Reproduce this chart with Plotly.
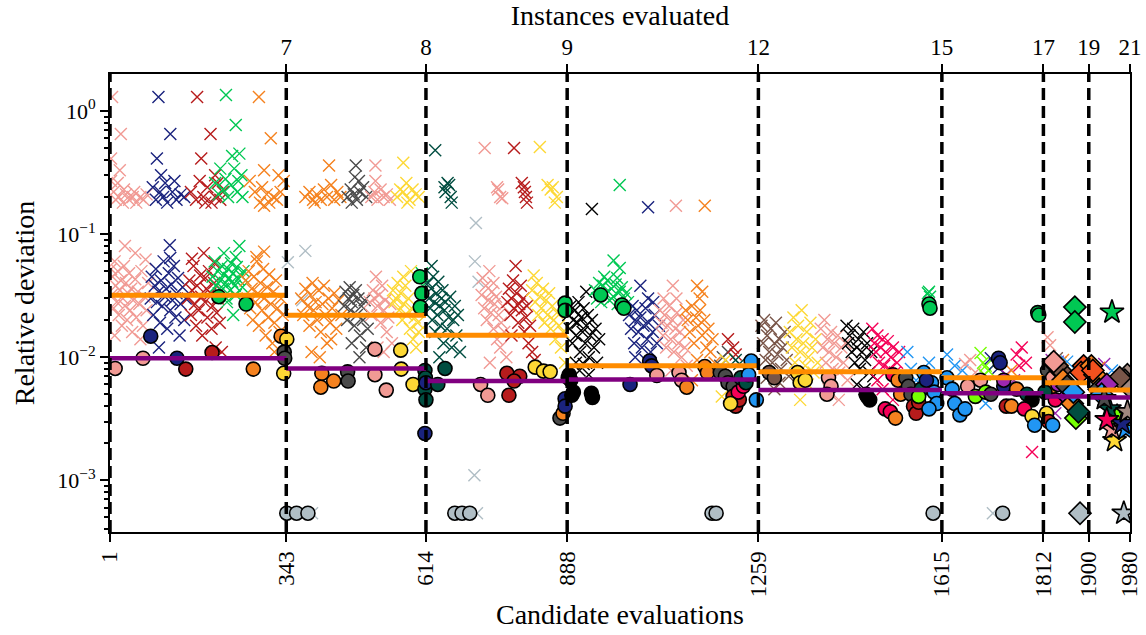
import plotly.graph_objects as go

# ---------------- data ----------------
seg_bounds = [1, 343, 614, 888, 1259, 1615, 1812, 1900, 1980]
instances = [7, 8, 9, 12, 15, 17, 19, 21]
mean_dev = [0.0319, 0.0219, 0.0151, 0.0085, 0.0076, 0.0068, 0.0062, 0.0054]
median_dev = [0.0098, 0.0081, 0.0064, 0.0066, 0.0054, 0.0051, 0.0048, 0.0047]
floor_val = 5.4e-4

palette = {
    "pink": "#f19a94", "navy": "#1a237e", "firebrick": "#b71c1c", "green": "#00c853",
    "orange": "#f5821f", "darkgray": "#4a4a4a", "yellow": "#fdd835", "teal": "#004d40",
    "lightgray": "#b0bec5", "black": "#000000", "brown": "#795548", "crimson": "#f50057",
    "blue": "#2196f3", "lime": "#76ff03", "purple": "#9c27b0", "tan": "#a1887f",
    "redorange": "#f4511e",
}

s1_pink = [(5,1.3),(22,0.65),(3,0.41),(20,0.33),(16,0.26),(3,0.27),(8,0.22),(12,0.19),(18,0.2),(26,0.18),
           (32,0.21),(38,0.19),(45,0.2),(52,0.18),(60,0.2),(66,0.19),(72,0.21),(28,0.23),(48,0.22),
           (4,0.032),(6,0.045),(8,0.025),(10,0.06),(12,0.038),(14,0.028),(16,0.05),(18,0.022),(20,0.035),
           (22,0.042),(24,0.018),(26,0.03),(28,0.055),(30,0.026),(32,0.04),(34,0.02),(36,0.033),(38,0.048),
           (40,0.024),(42,0.036),(44,0.016),(46,0.029),(50,0.043),(52,0.021),(55,0.034),(58,0.027),(62,0.05),
           (65,0.018),(68,0.031),(72,0.024),(75,0.04),(30,0.08),(50,0.07),(10,0.015),(60,0.014),(3,0.052),(70,0.062)]
s1_navy = [(95,1.3),(118,0.65),(92,0.41),(84,0.24),(100,0.3),(108,0.26),(122,0.22),(90,0.19),(104,0.2),
           (112,0.18),(130,0.19),(138,0.21),(145,0.2),(126,0.27),(98,0.22),
           (80,0.03),(82,0.045),(85,0.022),(88,0.038),(90,0.052),(92,0.028),(95,0.034),(98,0.019),(100,0.042),
           (102,0.026),(105,0.06),(108,0.031),(110,0.036),(112,0.017),(115,0.048),(117,0.081),(118,0.024),
           (120,0.039),(122,0.029),(125,0.055),(128,0.021),(130,0.033),(133,0.044),(136,0.015),(138,0.027),
           (142,0.037),(145,0.02),(148,0.03),(96,0.012),(118,0.064)]
s1_firebrick = [(170,1.3),(196,0.65),(178,0.41),(205,0.3),(210,0.26),(158,0.22),(168,0.19),(182,0.2),(190,0.24),
                (198,0.18),(215,0.19),(220,0.22),(175,0.27),(186,0.18),(205,0.2),
                (152,0.03),(155,0.042),(158,0.022),(160,0.035),(163,0.055),(166,0.027),(168,0.018),(170,0.038),
                (173,0.024),(176,0.046),(178,0.031),(180,0.015),(183,0.07),(185,0.028),(188,0.036),(190,0.021),
                (193,0.05),(196,0.033),(198,0.017),(200,0.026),(203,0.04),(206,0.012),(208,0.023),(210,0.03),
                (214,0.019),(218,0.011),(204,0.058),(160,0.063),(186,0.044)]
s1_green = [(226,1.35),(245,0.77),(252,0.45),(238,0.43),(215,0.34),(242,0.34),(256,0.3),(205,0.26),(220,0.23),
            (230,0.2),(236,0.25),(248,0.22),(258,0.2),(212,0.21),(225,0.28),(250,0.27),
            (200,0.045),(204,0.06),(207,0.038),(210,0.05),(212,0.033),(215,0.042),(218,0.055),(220,0.036),
            (222,0.047),(225,0.04),(227,0.03),(230,0.052),(232,0.044),(234,0.035),(236,0.058),(238,0.041),
            (240,0.048),(243,0.038),(245,0.032),(247,0.054),(250,0.043),(252,0.08),(255,0.046),(258,0.037),
            (260,0.05),(222,0.07),(245,0.065),(228,0.028),(240,0.022)]
s1_orange = [(290,1.3),(313,0.6),(300,0.33),(272,0.27),(282,0.22),(292,0.18),(300,0.17),(310,0.18),(318,0.2),
             (325,0.19),(332,0.22),(338,0.27),(328,0.3),(296,0.24),(305,0.21),
             (264,0.042),(268,0.03),(270,0.05),(273,0.025),(276,0.036),(278,0.02),(280,0.045),(283,0.028),
             (286,0.06),(288,0.033),(290,0.018),(293,0.04),(296,0.024),(298,0.052),(300,0.03),(303,0.015),
             (306,0.037),(308,0.021),(310,0.047),(313,0.027),(316,0.013),(318,0.034),(320,0.019),(323,0.042),
             (326,0.025),(330,0.016),(333,0.03),(336,0.022),(300,0.072),(285,0.065),(320,0.011)]

s2_lightgray = [(346,0.059),(380,0.073),(374,0.029),(393,floor_val)]
s2_orange = [(426,0.36),(380,0.2),(388,0.22),(395,0.19),(402,0.21),(410,0.19),(416,0.23),(422,0.2),(430,0.25),
             (436,0.19),(442,0.22),(448,0.2),(398,0.18),
             (372,0.03),(376,0.022),(380,0.036),(384,0.026),(388,0.018),(390,0.032),(394,0.04),(396,0.024),
             (400,0.028),(403,0.02),(406,0.035),(410,0.016),(413,0.027),(416,0.038),(419,0.022),(422,0.013),
             (425,0.03),(428,0.019),(432,0.025),(436,0.033),(440,0.017),(445,0.029),(450,0.022),(392,0.011),
             (408,0.01),(430,0.014)]
s2_darkgray = [(478,0.36),(476,0.29),(462,0.2),(468,0.23),(474,0.21),(480,0.19),(486,0.22),(492,0.24),(498,0.2),
               (484,0.27),(470,0.18),
               (455,0.026),(458,0.034),(461,0.02),(464,0.03),(466,0.037),(468,0.024),(470,0.028),(473,0.032),
               (475,0.018),(478,0.035),(480,0.022),(483,0.03),(486,0.015),(489,0.026),(492,0.02),(495,0.029),
               (498,0.012),(501,0.017),(470,0.013),(485,0.01)]
s2_pink = [(516,0.36),(508,0.2),(514,0.22),(520,0.19),(526,0.23),(532,0.2),(538,0.21),(516,0.27),(544,0.19),
           (505,0.028),(508,0.022),(511,0.035),(514,0.03),(517,0.045),(520,0.026),(523,0.032),(526,0.019),
           (529,0.038),(532,0.024),(535,0.029),(538,0.016),(541,0.021),(545,0.027),(548,0.013),(520,0.012),(532,0.011)]
s2_yellow = [(570,0.38),(558,0.2),(564,0.23),(570,0.22),(576,0.26),(582,0.19),(588,0.23),(594,0.21),(600,0.2),
             (578,0.18),
             (550,0.035),(553,0.028),(556,0.03),(559,0.04),(562,0.024),(565,0.033),(568,0.02),(571,0.027),
             (574,0.038),(577,0.022),(580,0.03),(583,0.017),(586,0.025),(589,0.014),(592,0.021),(595,0.012),
             (598,0.019),(600,0.016),(570,0.045),(585,0.05)]
s2_green = [(606,0.048),(608,0.038)]

s3_teal = [(632,0.48),(659,0.25),(656,0.26),(652,0.22),(662,0.2),(664,0.18),(650,0.24),
           (618,0.04),(620,0.03),(622,0.025),(624,0.036),(626,0.02),(628,0.045),(630,0.028),(632,0.016),
           (634,0.033),(636,0.022),(638,0.041),(640,0.026),(642,0.018),(644,0.03),(646,0.035),(648,0.013),
           (650,0.024),(652,0.028),(655,0.017),(658,0.021),(661,0.031),(664,0.012),(667,0.02),(670,0.026),
           (673,0.015),(676,0.022),(680,0.011),(640,0.01),(625,0.055)]
s3_lightgray = [(711,0.123),(709,0.06),(716,0.041),(708,0.0011),(713,floor_val)]
s3_pink = [(728,0.5),(752,0.24),(758,0.2),(762,0.195),(754,0.23),
           (722,0.032),(724,0.044),(727,0.025),(730,0.038),(732,0.02),(735,0.029),(737,0.05),(740,0.023),
           (742,0.034),(745,0.017),(747,0.027),(750,0.031),(752,0.014),(755,0.022),(758,0.012),(760,0.019),
           (763,0.026),(766,0.016),(770,0.01),(738,0.009),(745,0.04)]
s3_firebrick = [(785,0.5),(800,0.26),(804,0.24),(806,0.22),(808,0.2),(810,0.18),
                (772,0.028),(775,0.036),(778,0.022),(780,0.03),(783,0.042),(785,0.025),(788,0.055),(790,0.033),
                (793,0.019),(795,0.027),(798,0.038),(800,0.024),(803,0.03),(805,0.016),(808,0.021),(810,0.026),
                (813,0.013),(816,0.018),(820,0.011),(780,0.015),(825,0.0095)]
s3_yellow = [(835,0.51),(850,0.25),(856,0.23),(860,0.24),(864,0.18),(868,0.2),
             (820,0.035),(823,0.046),(826,0.028),(829,0.04),(832,0.022),(835,0.031),(838,0.025),(841,0.036),
             (844,0.019),(847,0.029),(850,0.022),(853,0.033),(856,0.017),(859,0.026),(862,0.02),(865,0.014),
             (868,0.023),(872,0.018),(876,0.012),(880,0.016),(884,0.009)]

s4_black = [(936,0.16),(925,0.034),
            (890,0.022),(893,0.017),(895,0.026),(898,0.013),(900,0.02),(903,0.024),(905,0.015),(908,0.019),
            (910,0.028),(913,0.011),(915,0.021),(918,0.016),(920,0.025),(923,0.013),(925,0.018),(928,0.022),
            (930,0.01),(933,0.015),(936,0.02),(940,0.012),(943,0.017),(946,0.009),(950,0.014),(905,0.009),
            (920,0.0088),(912,0.0078),(930,0.0072)]
s4_green = [(990,0.25),(978,0.061),(990,0.053),
            (942,0.035),(946,0.03),(950,0.04),(954,0.028),(958,0.038),(962,0.033),(966,0.042),(970,0.029),
            (974,0.036),(978,0.031),(982,0.039),(986,0.027),(990,0.034),(994,0.037),(998,0.03),(1002,0.033),
            (1006,0.028),(960,0.045),(985,0.044)]
s4_navy = [(1045,0.165),(1030,0.038),(1045,0.03),
           (1008,0.022),(1012,0.017),(1015,0.026),(1018,0.013),(1020,0.02),(1023,0.024),(1026,0.016),
           (1030,0.021),(1033,0.012),(1036,0.018),(1040,0.025),(1043,0.014),(1046,0.019),(1050,0.011),
           (1054,0.016),(1058,0.022),(1062,0.013),(1066,0.018),(1020,0.01),(1040,0.0095),(1055,0.028)]
s4_pink = [(1099,0.17),(1093,0.038),(1100,0.03),
           (1068,0.024),(1071,0.019),(1074,0.015),(1077,0.022),(1080,0.012),(1083,0.018),(1086,0.026),
           (1089,0.014),(1092,0.02),(1095,0.011),(1098,0.017),(1101,0.023),(1104,0.013),(1107,0.016),
           (1110,0.01),(1113,0.02),(1116,0.012),(1120,0.0085),(1090,0.0078),(1075,0.03)]
s4_orange = [(1155,0.17),(1140,0.038),(1150,0.034),(1145,0.03),
             (1118,0.024),(1122,0.02),(1126,0.016),(1130,0.026),(1134,0.013),(1138,0.021),(1142,0.018),
             (1146,0.024),(1150,0.015),(1154,0.02),(1158,0.012),(1162,0.017),(1166,0.011),(1170,0.014),
             (1174,0.009),(1140,0.0095),(1160,0.0075),(1130,0.0065)]
s4_mixed_darkgray = [(1190,0.01),(1200,0.011),(1185,0.0085)]
s4_mixed_firebrick = [(1200,0.014),(1210,0.012),(1215,0.0105)]
s4_mixed_yellow = [(1195,0.0095),(1188,0.0048)]
s4_mixed_teal = [(1215,0.0095),(1222,0.0088)]

s5_brown = [(1265,0.018),(1268,0.013),(1270,0.02),(1273,0.0095),(1276,0.015),(1280,0.011),(1283,0.017),
            (1286,0.009),(1290,0.013),(1293,0.019),(1296,0.0105),(1300,0.014),(1303,0.008),(1306,0.012),
            (1310,0.016),(1314,0.0095),(1318,0.007),(1290,0.0055),(1275,0.0068),(1300,0.0062)]
s5_yellow = [(1320,0.016),(1324,0.012),(1327,0.021),(1330,0.009),(1333,0.014),(1336,0.018),(1340,0.011),
             (1343,0.024),(1346,0.013),(1350,0.0085),(1353,0.016),(1356,0.01),(1360,0.019),(1363,0.012),
             (1366,0.0075),(1370,0.014),(1374,0.009),(1340,0.0045),(1355,0.006)]
s5_pink = [(1380,0.017),(1384,0.012),(1387,0.02),(1390,0.009),(1393,0.014),(1396,0.011),(1400,0.016),
           (1403,0.008),(1406,0.013),(1410,0.01),(1413,0.015),(1416,0.0075),(1420,0.012),(1424,0.009),
           (1428,0.013),(1432,0.0065),(1400,0.005),(1415,0.0045),(1395,0.0055)]
s5_black = [(1430,0.018),(1433,0.013),(1436,0.015),(1440,0.011),(1443,0.017),(1446,0.009),(1450,0.012),
            (1453,0.014),(1456,0.008),(1460,0.011),(1463,0.016),(1466,0.0095),(1470,0.013),(1474,0.0075),
            (1478,0.011),(1482,0.007),(1450,0.006),(1465,0.0055)]
s5_crimson = [(1480,0.017),(1484,0.013),(1487,0.011),(1490,0.015),(1493,0.009),(1496,0.012),(1500,0.014),
              (1503,0.0085),(1506,0.011),(1510,0.0135),(1513,0.008),(1516,0.01),(1520,0.012),(1524,0.0075),
              (1528,0.009),(1532,0.011),(1536,0.007),(1500,0.0055),(1520,0.0045),(1490,0.0065)]
s5_blue = [(1548,0.011),(1555,0.008),(1565,0.0065),(1575,0.0055),(1590,0.009),(1600,0.0045),(1580,0.007)]
s5_green = [(1590,0.034),(1592,0.031),(1588,0.033)]

s6_blue = [(1625,0.0105),(1640,0.0085),(1655,0.0078),(1700,0.0042)]
s6_pink = [(1660,0.0088),(1670,0.0095),(1680,0.0075)]
s6_lime = [(1690,0.0108),(1695,0.009),(1700,0.0085),(1705,0.0078),(1698,0.0072)]
s6_navy = [(1710,0.0098),(1718,0.0088),(1725,0.0082)]
s6_crimson = [(1760,0.0105),(1770,0.012),(1778,0.009),(1765,0.0085),(1790,0.0017)]
s6_purple = [(1740,0.0072),(1755,0.0065)]
s6_orange = [(1750,0.0078)]
s6_lightgray = [(1714,floor_val)]

s7_pink = [(1820,0.0145),(1825,0.0125)]
s7_purple = [(1828,0.0095),(1840,0.0092),(1835,0.0035)]
s7_brown = [(1838,0.0098)]
s7_orange = [(1845,0.009),(1850,0.0095)]
s7_blue = [(1858,0.0092),(1830,0.0088)]
s8_purple = [(1930,0.0088)]
s8_orange = [(1920,0.0082)]
s8_blue = [(1945,0.0078)]

# circles: (x, y, config)
circles = [
    (11,0.0081,"pink"),(65,0.0098,"pink"),(80,0.0148,"navy"),(131,0.0098,"navy"),(148,0.008,"firebrick"),
    (199,0.0109,"firebrick"),(212,0.031,"green"),(265,0.027,"green"),(279,0.008,"orange"),
    (333,0.0148,"orange"),(344,0.014,"yellow"),(339,0.011,"darkgray"),(340,0.0098,"darkgray"),(338,0.0074,"yellow"),
    (412,0.0074,"orange"),(435,0.0064,"orange"),(410,0.0057,"orange"),(462,0.0076,"darkgray"),(463,0.0064,"darkgray"),
    (515,0.0116,"pink"),(515,0.0072,"pink"),(537,0.0054,"pink"),(565,0.0114,"yellow"),(566,0.008,"yellow"),
    (589,0.006,"yellow"),(602,0.045,"green"),(606,0.033,"green"),(603,0.0255,"green"),
    (612,0.0078,"teal"),(613,0.0068,"teal"),(612,0.0055,"teal"),(614,0.0045,"teal"),(612,0.0024,"navy"),(614,0.0062,"navy"),
    (651,0.0081,"teal"),(637,0.006,"teal"),(720,0.006,"pink"),(734,0.0049,"pink"),(771,0.0074,"firebrick"),
    (796,0.007,"firebrick"),(775,0.0049,"firebrick"),(785,0.0064,"firebrick"),(826,0.0083,"yellow"),
    (842,0.0077,"yellow"),(855,0.0076,"yellow"),(884,0.0275,"green"),(884,0.024,"green"),
    (874,0.0032,"darkgray"),(880,0.0035,"orange"),(884,0.0046,"navy"),(884,0.004,"navy"),
    (892,0.0072,"black"),(895,0.0065,"black"),(890,0.0068,"black"),(900,0.0052,"black"),(897,0.0049,"black"),
    (935,0.0051,"black"),(937,0.0047,"black"),(953,0.032,"green"),(994,0.0265,"green"),(998,0.025,"green"),
    (1010,0.006,"navy"),(1048,0.0093,"navy"),(1052,0.0085,"navy"),(1062,0.0071,"pink"),(1105,0.0075,"pink"),
    (1110,0.0065,"pink"),(1120,0.0057,"orange"),(1155,0.0084,"orange"),(1160,0.0075,"orange"),
    (1185,0.0075,"darkgray"),(1195,0.007,"darkgray"),(1200,0.0062,"darkgray"),(1210,0.0058,"darkgray"),
    (1210,0.0048,"firebrick"),(1215,0.004,"firebrick"),(1222,0.0045,"firebrick"),(1220,0.0052,"crimson"),
    (1230,0.0058,"crimson"),(1225,0.0068,"teal"),(1235,0.0062,"teal"),(1205,0.0042,"yellow"),
    (1245,0.0093,"blue"),(1255,0.0045,"blue"),(1240,0.0072,"blue"),
    (1280,0.0075,"brown"),(1290,0.0068,"brown"),(1335,0.0075,"yellow"),(1340,0.0062,"yellow"),(1350,0.0065,"yellow"),
    (1395,0.0068,"pink"),(1400,0.0058,"pink"),(1392,0.005,"pink"),(1470,0.0048,"black"),(1475,0.0045,"black"),
    (1468,0.005,"black"),(1520,0.0072,"crimson"),(1505,0.0038,"crimson"),(1515,0.0036,"crimson"),
    (1530,0.0065,"orange"),(1535,0.005,"orange"),(1525,0.0032,"orange"),(1545,0.0068,"darkgray"),
    (1550,0.0058,"darkgray"),(1555,0.005,"darkgray"),(1560,0.004,"firebrick"),(1565,0.0035,"firebrick"),
    (1570,0.0043,"firebrick"),(1575,0.0055,"teal"),(1580,0.0075,"blue"),(1595,0.0062,"blue"),(1600,0.0052,"blue"),
    (1605,0.0042,"blue"),(1590,0.0038,"blue"),(1585,0.0065,"navy"),(1570,0.0048,"lime"),(1590,0.027,"green"),
    (1592,0.025,"green"),
    (1625,0.0068,"blue"),(1635,0.0055,"blue"),(1640,0.0042,"blue"),(1650,0.0034,"blue"),(1660,0.0038,"blue"),
    (1665,0.0058,"pink"),(1690,0.0065,"pink"),(1680,0.0048,"lime"),(1700,0.0052,"lime"),(1725,0.0098,"navy"),
    (1728,0.009,"navy"),(1735,0.0058,"navy"),(1710,0.005,"darkgray"),(1740,0.004,"firebrick"),
    (1760,0.0055,"orange"),(1750,0.004,"orange"),(1735,0.0065,"purple"),(1780,0.005,"teal"),(1790,0.0045,"black"),
    (1775,0.0038,"crimson"),(1790,0.0033,"yellow"),(1795,0.0028,"blue"),(1801,0.023,"green"),(1803,0.022,"green"),
    (1820,0.0078,"darkgray"),(1830,0.0068,"pink"),(1825,0.0055,"orange"),(1840,0.006,"purple"),
    (1835,0.0045,"crimson"),(1815,0.0052,"teal"),(1818,0.0035,"yellow"),(1822,0.003,"firebrick"),(1830,0.0028,"blue"),
    (344,floor_val,"lightgray"),(363,floor_val,"lightgray"),(385,floor_val,"lightgray"),
    (670,floor_val,"lightgray"),(684,floor_val,"lightgray"),(699,floor_val,"lightgray"),
    (1169,floor_val,"lightgray"),(1177,floor_val,"lightgray"),(1598,floor_val,"lightgray"),(1733,floor_val,"lightgray"),
]

diamonds = [
    (1873,0.0255,"green"),(1873,0.0193,"green"),(1845,0.0078,"brown"),(1838,0.0085,"brown"),(1832,0.0092,"pink"),
    (1860,0.0048,"purple"),(1850,0.0065,"orange"),(1868,0.0042,"orange"),(1858,0.0058,"darkgray"),
    (1875,0.0032,"lime"),(1880,0.0036,"teal"),(1870,0.0052,"blue"),(1890,0.0085,"redorange"),
    (1885,0.0075,"redorange"),(1883,floor_val,"lightgray"),
    (1905,0.0085,"orange"),(1912,0.0072,"orange"),(1908,0.0078,"redorange"),(1975,0.0072,"tan"),
    (1970,0.0065,"tan"),(1978,0.0058,"tan"),(1960,0.0068,"brown"),(1920,0.0055,"darkgray"),
    (1935,0.006,"purple"),(1925,0.005,"blue"),
]

stars = [
    (1945,0.0232,"green"),(1968,floor_val,"lightgray"),(1950,0.0021,"yellow"),(1945,0.0026,"pink"),
    (1955,0.0033,"lime"),(1972,0.0026,"blue"),(1940,0.0038,"teal"),(1965,0.0029,"navy"),
    (1935,0.0031,"crimson"),(1975,0.0036,"tan"),(1930,0.0046,"darkgray"),
]

cross_sets = [
    (s1_pink,"pink"),(s1_navy,"navy"),(s1_firebrick,"firebrick"),(s1_green,"green"),(s1_orange,"orange"),
    (s2_lightgray,"lightgray"),(s2_orange,"orange"),(s2_darkgray,"darkgray"),(s2_pink,"pink"),(s2_yellow,"yellow"),
    (s2_green,"green"),
    (s3_teal,"teal"),(s3_lightgray,"lightgray"),(s3_pink,"pink"),(s3_firebrick,"firebrick"),(s3_yellow,"yellow"),
    (s4_black,"black"),(s4_green,"green"),(s4_navy,"navy"),(s4_pink,"pink"),(s4_orange,"orange"),
    (s4_mixed_darkgray,"darkgray"),(s4_mixed_firebrick,"firebrick"),(s4_mixed_yellow,"yellow"),(s4_mixed_teal,"teal"),
    (s5_brown,"brown"),(s5_yellow,"yellow"),(s5_pink,"pink"),(s5_black,"black"),(s5_crimson,"crimson"),
    (s5_blue,"blue"),(s5_green,"green"),
    (s6_blue,"blue"),(s6_pink,"pink"),(s6_lime,"lime"),(s6_navy,"navy"),(s6_crimson,"crimson"),
    (s6_purple,"purple"),(s6_orange,"orange"),(s6_lightgray,"lightgray"),
    (s7_pink,"pink"),(s7_purple,"purple"),(s7_brown,"brown"),(s7_orange,"orange"),(s7_blue,"blue"),
    (s8_purple,"purple"),(s8_orange,"orange"),(s8_blue,"blue"),
]

# ---------------- figure ----------------
FONT = "Liberation Serif"
fig = go.Figure()

for pts, key in cross_sets:
    col = palette[key]
    fig.add_trace(go.Scatter(
        x=[p[0] for p in pts], y=[p[1] for p in pts], mode="markers",
        marker=dict(symbol="x-thin", size=12, color=col, line=dict(color=col, width=1.4)),
        hoverinfo="skip", showlegend=False))

def add_filled(points, symbol, size):
    fig.add_trace(go.Scatter(
        x=[p[0] for p in points], y=[p[1] for p in points], mode="markers",
        marker=dict(symbol=symbol, size=size, color=[palette[p[2]] for p in points],
                    line=dict(color="black", width=1.6)),
        hoverinfo="skip", showlegend=False))

add_filled(circles, "circle", 14)
add_filled(diamonds, "diamond", 17)
add_filled(stars, "star", 18)

# step lines (mean / median per segment)
def step_xy(vals):
    xs, ys = [], []
    for i, v in enumerate(vals):
        xs += [seg_bounds[i], seg_bounds[i + 1], None]
        ys += [v, v, None]
    return xs, ys

mx, my = step_xy(mean_dev)
fig.add_trace(go.Scatter(x=mx, y=my, mode="lines", line=dict(color="#ff8c00", width=5),
                         hoverinfo="skip", showlegend=False))
px_, py_ = step_xy(median_dev)
fig.add_trace(go.Scatter(x=px_, y=py_, mode="lines", line=dict(color="#800080", width=4.5),
                         hoverinfo="skip", showlegend=False))

# dummy trace for top axis
fig.add_trace(go.Scatter(x=[seg_bounds[0], seg_bounds[-1]], y=[0.01, 0.01], xaxis="x2", mode="markers",
                         marker=dict(opacity=0), hoverinfo="skip", showlegend=False))

# dashed vertical lines
for b in seg_bounds[:-1]:
    fig.add_shape(type="line", xref="x", yref="paper", x0=b, x1=b, y0=0, y1=1,
                  line=dict(color="black", width=3.5, dash="12px,6px"), layer="above")

minor_vals = []
for d in range(-4, 1):
    for k in range(2, 10):
        v = k * 10 ** d
        if 3.8e-4 <= v <= 2.0:
            minor_vals.append(v)

xr = [seg_bounds[0], seg_bounds[-1]]
fig.update_layout(
    width=1146, height=635,
    margin=dict(l=110, r=16, t=74, b=103, autoexpand=False),
    paper_bgcolor="white", plot_bgcolor="white",
    font=dict(family=FONT, size=22, color="black"),
    xaxis=dict(range=xr, tickmode="array", tickvals=seg_bounds, ticktext=[str(v) for v in seg_bounds],
               tickangle=-90, ticks="outside", ticklen=8, tickwidth=2, tickcolor="black", automargin=False,
               showgrid=False, zeroline=False, showline=True, linewidth=2, linecolor="black",
               title=dict(text="Candidate evaluations", font=dict(size=28), standoff=8),
               tickfont=dict(size=23)),
    xaxis2=dict(range=xr, overlaying="x", side="top", tickmode="array", tickvals=seg_bounds[1:],
                ticktext=[str(v) for v in instances], ticks="outside", ticklen=8, tickwidth=2,
                tickcolor="black", showgrid=False, zeroline=False, showline=True, linewidth=2, automargin=False,
                linecolor="black", title=dict(text="Instances evaluated", font=dict(size=28), standoff=6),
                tickfont=dict(size=23)),
    yaxis=dict(type="log", range=[-3.42, 0.30], tickmode="array", tickvals=[1e-3, 1e-2, 1e-1, 1],
               ticktext=["10<sup>−3</sup>", "10<sup>−2</sup>", "10<sup>−1</sup>", "10<sup>0</sup>"],
               ticks="outside", ticklen=8, tickwidth=2, tickcolor="black", automargin=False,
               minor=dict(tickmode="array", tickvals=minor_vals, ticks="outside", ticklen=4, tickwidth=1.5,
                          tickcolor="black", showgrid=False),
               showgrid=False, zeroline=False, showline=True, linewidth=2, linecolor="black", mirror=True,
               title=dict(text="Relative deviation", font=dict(size=28), standoff=14),
               tickfont=dict(size=22)),
)

fig.write_html("out.html")
